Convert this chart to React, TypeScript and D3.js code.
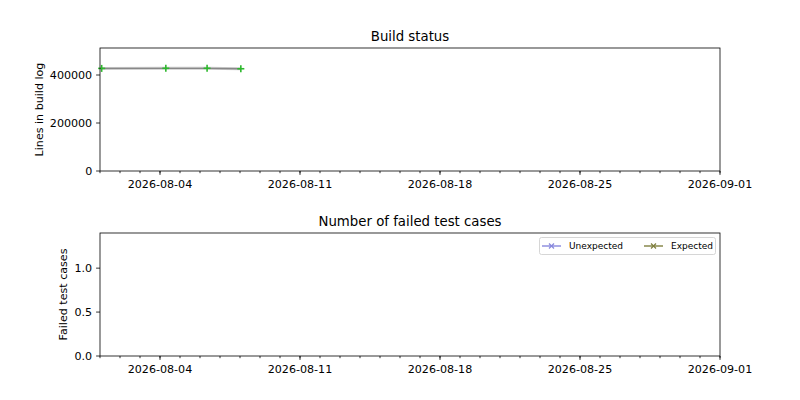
import React from "react";
import * as d3 from "d3";

const buildTimes = ["2026-08-01T02:00", "2026-08-04T07:00", "2026-08-06T08:30", "2026-08-08T01:00"];
const buildLines = [427500, 428000, 428000, 426000];
const unexpectedFailures: number[] = [];
const expectedFailures: number[] = [];
const xTickLabels = ["2026-08-04", "2026-08-11", "2026-08-18", "2026-08-25", "2026-09-01"];
const topYTicks = [0, 200000, 400000];
const bottomYTicks = [0, 0.5, 1.0];
const legendLabels = ["Unexpected", "Expected"];

const W = 800, H = 400;
const L = 100, R = 720;
const FONT = "DejaVu Sans, sans-serif";

const parseT = d3.timeParse("%Y-%m-%dT%H:%M");
const parseD = d3.timeParse("%Y-%m-%d");

export default function App() {
  const x = d3.scaleTime().domain([parseD("2026-08-01")!, parseD("2026-09-01")!]).range([L, R]);
  const yTop = d3.scaleLinear().domain([0, 512500]).range([171, 48]);
  const yBot = d3.scaleLinear().domain([0, 1.4]).range([356, 233]);
  const days = d3.timeDay.range(parseD("2026-08-01")!, d3.timeDay.offset(parseD("2026-09-01")!, 1));
  const pts = buildTimes.map((t, i) => ({ t: parseT(t)!, v: buildLines[i] }));
  const line = d3.line<{ t: Date; v: number }>().x(d => x(d.t)).y(d => yTop(d.v));

  const xAxis = (y0: number) => (
    <g>
      {days.map((d, i) => (
        <line key={"m" + i} x1={x(d)} x2={x(d)} y1={y0} y2={y0 + 2.2} stroke="#000" strokeWidth={0.8} />
      ))}
      {xTickLabels.map((s, i) => {
        const xv = x(parseD(s)!);
        return (
          <g key={"M" + i}>
            <line x1={xv} x2={xv} y1={y0} y2={y0 + 3.9} stroke="#000" strokeWidth={0.8} />
            <text x={xv} y={y0 + 16.5} textAnchor="middle" fontSize={11.1} fontFamily={FONT}>{s}</text>
          </g>
        );
      })}
    </g>
  );

  const yAxis = (scale: d3.ScaleLinear<number, number>, ticks: number[], fmt: (v: number) => string) => (
    <g>
      {ticks.map((t, i) => (
        <g key={i}>
          <line x1={L - 3.9} x2={L} y1={scale(t)} y2={scale(t)} stroke="#000" strokeWidth={0.8} />
          <text x={L - 7.8} y={scale(t)} dy="0.36em" textAnchor="end" fontSize={11.1} fontFamily={FONT}>{fmt(t)}</text>
        </g>
      ))}
    </g>
  );

  const legendColors = ["#8888dd", "#808040"];

  return (
    <svg width={W} height={H} style={{ position: "absolute", left: 0, top: 0, background: "#fff" }}>
      <rect width={W} height={H} fill="#fff" />
      {/* Top panel */}
      <text x={(L + R) / 2} y={41} textAnchor="middle" fontSize={13.3} fontFamily={FONT}>Build status</text>
      <path d={line(pts)!} fill="none" stroke="#cccccc" strokeWidth={3} />
      <path d={line(pts)!} fill="none" stroke="#888888" strokeWidth={1.3} />
      {pts.map((p, i) => (
        <g key={i} stroke="#2db82d" strokeWidth={1.6}>
          <line x1={x(p.t) - 3.5} x2={x(p.t) + 3.5} y1={yTop(p.v)} y2={yTop(p.v)} />
          <line x1={x(p.t)} x2={x(p.t)} y1={yTop(p.v) - 3.5} y2={yTop(p.v) + 3.5} />
        </g>
      ))}
      <rect x={L} y={48} width={R - L} height={123} fill="none" stroke="#000" strokeWidth={0.8} />
      {xAxis(171)}
      {yAxis(yTop, topYTicks, v => String(v))}
      <text transform={`translate(43,${(48 + 171) / 2}) rotate(-90)`} textAnchor="middle" fontSize={11.1} fontFamily={FONT}>Lines in build log</text>

      {/* Bottom panel */}
      <text x={(L + R) / 2} y={226} textAnchor="middle" fontSize={13.3} fontFamily={FONT}>Number of failed test cases</text>
      {[unexpectedFailures, expectedFailures].map((series, si) =>
        series.map((v, i) => (
          <circle key={si + "-" + i} cx={x(parseT(buildTimes[i])!)} cy={yBot(v)} r={2} fill={legendColors[si]} />
        ))
      )}
      <rect x={L} y={233} width={R - L} height={123} fill="none" stroke="#000" strokeWidth={0.8} />
      {xAxis(356)}
      {yAxis(yBot, bottomYTicks, v => v.toFixed(1))}
      <text transform={`translate(67,${(233 + 356) / 2}) rotate(-90)`} textAnchor="middle" fontSize={11.1} fontFamily={FONT}>Failed test cases</text>

      {/* Legend */}
      <rect x={539.5} y={237.5} width={176} height={17} rx={2} fill="#fff" fillOpacity={0.8} stroke="#cccccc" strokeWidth={0.8} />
      {legendLabels.map((lab, i) => {
        const x0 = 542 + i * 102;
        const cy = 246;
        const c = legendColors[i];
        return (
          <g key={lab}>
            <line x1={x0} x2={x0 + 19} y1={cy} y2={cy} stroke={c} strokeWidth={1.4} />
            <line x1={x0 + 7} x2={x0 + 12} y1={cy - 2.5} y2={cy + 2.5} stroke={c} strokeWidth={1.2} />
            <line x1={x0 + 7} x2={x0 + 12} y1={cy + 2.5} y2={cy - 2.5} stroke={c} strokeWidth={1.2} />
            <text x={x0 + 27} y={cy} dy="0.36em" fontSize={9} fontFamily={FONT}>{lab}</text>
          </g>
        );
      })}
    </svg>
  );
}
